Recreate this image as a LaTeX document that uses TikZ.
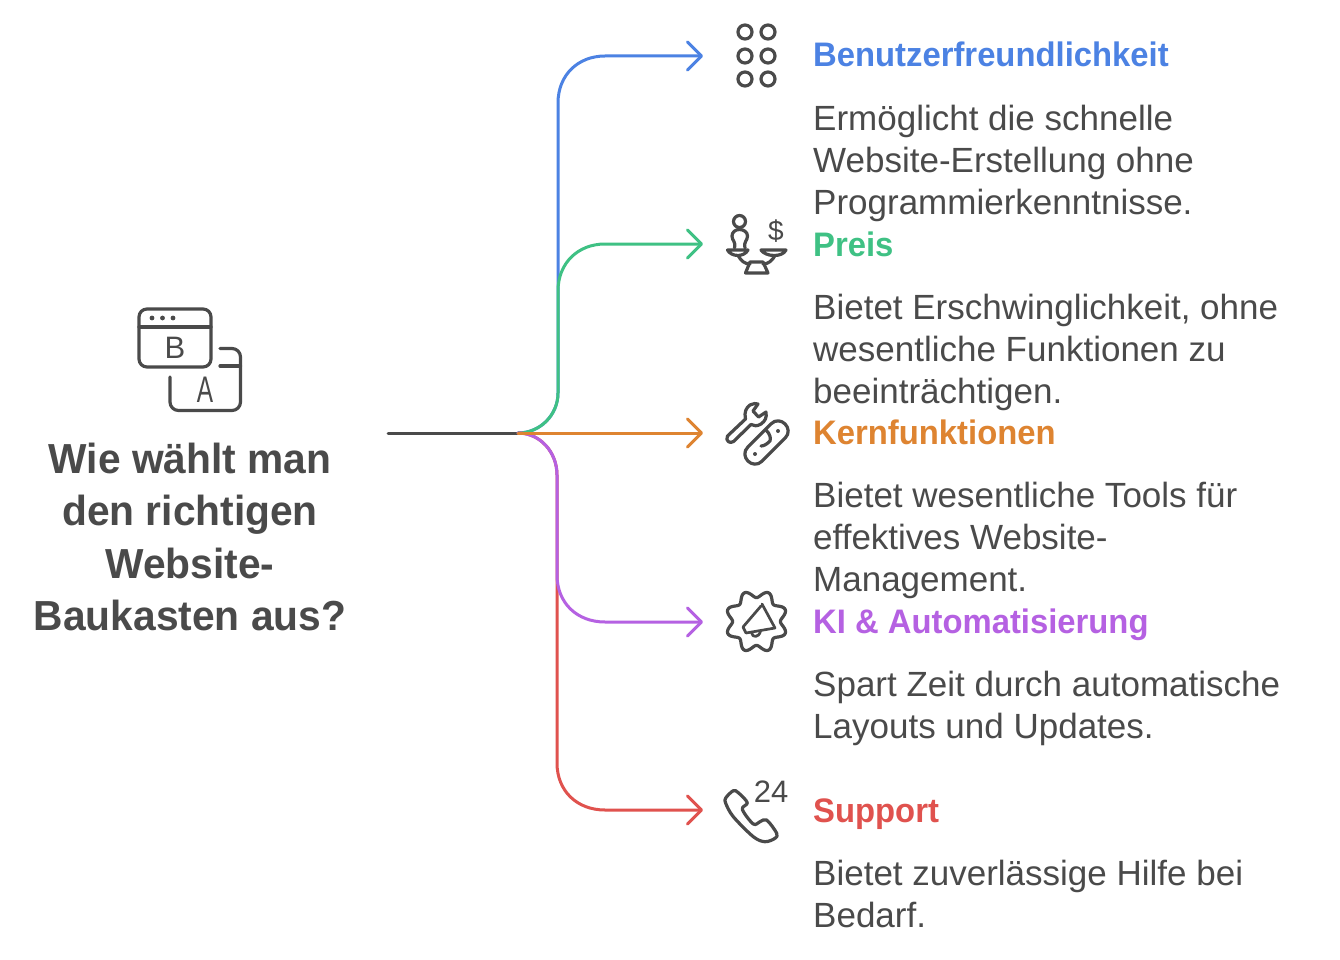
\documentclass[tikz,border=0pt]{standalone}
\usepackage{fontspec}
\setmainfont{Liberation Sans}
\usetikzlibrary{arrows.meta}
\definecolor{ink}{HTML}{4A4A4A}
\definecolor{cblue}{HTML}{4C82E3}
\definecolor{cgreen}{HTML}{3FC184}
\definecolor{corange}{HTML}{DE8431}
\definecolor{cpurple}{HTML}{B561E2}
\definecolor{cred}{HTML}{E0524E}
\tikzset{
  conn/.style={line width=3pt,line cap=round,line join=round},
  tipped/.style={conn,-{Straight Barb[length=14pt,width=28pt,line width=3pt,round]}},
  icon/.style={draw=ink,line width=3.2pt,line cap=round,line join=round},
  title/.style={inner sep=0pt,align=center,text=ink,xscale=.97,font=\fontsize{42}{52.3}\selectfont\bfseries},
  head/.style={inner sep=0pt,anchor=base west,xscale=.965,font=\fontsize{34}{42}\selectfont\bfseries},
  body/.style={inner sep=0pt,anchor=north west,align=left,text=ink,font=\fontsize{35}{42}\selectfont},
  glyph/.style={inner sep=0pt,anchor=base,text=ink}
}
\begin{document}
\begin{tikzpicture}[x=1pt,y=-1pt]
\useasboundingbox (0,0) rectangle (1340,960);
\fill[white] (0,0) rectangle (1340,960);

% title
\node[title] (question) at (190,537) {Wie wählt man\\den richtigen\\Website-\\Baukasten aus?};

% connectors
\coordinate (start) at (388,433);
\coordinate (root) at (518,433);
\coordinate (tipA) at (703,56);
\coordinate (tipB) at (703,244);
\coordinate (tipC) at (703,433);
\coordinate (tipD) at (703,622);
\coordinate (tipE) at (703,810);
\draw[conn,draw=ink] (start) -- (root);
\draw[tipped,draw=cblue] (root) .. controls (540,433) and (558,415) .. (558,393) -- (558,103) .. controls (558,75) and (578,56) .. (605,56) -- (tipA);
\draw[tipped,draw=cgreen] (root) .. controls (540,433) and (558,415) .. (558,393) -- (558,291) .. controls (558,263) and (578,244) .. (605,244) -- (tipB);
\draw[tipped,draw=cred] (root) .. controls (540,433) and (557,452) .. (557,475) -- (557,763) .. controls (557,791) and (577,810) .. (605,810) -- (tipE);
\draw[tipped,draw=cpurple] (root) .. controls (540,433) and (557,452) .. (557,475) -- (557,575) .. controls (557,603) and (577,622) .. (605,622) -- (tipD);
\draw[tipped,draw=corange] (root) -- (tipC);

% headings and bodies
\node[head,text=cblue] (h1) at (813,67) {Benutzerfreundlichkeit};
\node[body] (b1) at (813,105) {Ermöglicht die schnelle\\Website-Erstellung ohne\\Programmierkenntnisse.};
\node[head,text=cgreen] (h2) at (813,256) {Preis};
\node[body] (b2) at (813,294) {Bietet Erschwinglichkeit, ohne\\wesentliche Funktionen zu\\beeinträchtigen.};
\node[head,text=corange] (h3) at (813,444) {Kernfunktionen};
\node[body] (b3) at (813,482) {Bietet wesentliche Tools für\\effektives Website-\\Management.};
\node[head,text=cpurple] (h4) at (813,633) {KI \& Automatisierung};
\node[body] (b4) at (813,671) {Spart Zeit durch automatische\\Layouts und Updates.};
\node[head,text=cred] (h5) at (813,822) {Support};
\node[body] (b5) at (813,860) {Bietet zuverlässige Hilfe bei\\Bedarf.};

% icon: A/B browser
\draw[icon] (139,317) arc[start angle=180,end angle=270,radius=8] -- (203,309) arc[start angle=270,end angle=360,radius=8] -- (211,359) arc[start angle=0,end angle=90,radius=8] -- (147,367) arc[start angle=90,end angle=180,radius=8] -- cycle;
\draw[icon] (139,327) -- (211,327);
\fill[ink] (152,318) circle (2.4) (162.5,318) circle (2.4) (173,318) circle (2.4);
\draw[icon] (170,377) -- (170,402) arc[start angle=180,end angle=90,radius=8.5] -- (232,410.5) arc[start angle=90,end angle=0,radius=8.5] -- (240.5,357) arc[start angle=0,end angle=-90,radius=8.5] -- (220,348.5);
\draw[icon] (220,366) -- (240.5,366);
\node[glyph,font=\fontsize{31}{31}\selectfont] (letterB) at (175,358.5) {B};
\node[glyph,font=\fontsize{37}{37}\selectfont,xscale=.66] (letterA) at (205,402) {A};

% icon: dots
\foreach \px in {745,768} \foreach \py in {32,56,79} \draw[icon] (\px,\py) circle (7);

% icon: scales
\draw[icon] (739.5,221.5) circle (6);
\draw[icon] (734.5,248) .. controls (736,241) and (732,241) .. (732,236) .. controls (732,232) and (735.5,229.5) .. (739.5,229.5) .. controls (743.5,229.5) and (747.5,232) .. (747.5,236) .. controls (747.5,241) and (743.5,241) .. (745,248);
\draw[icon] (727.5,250) -- (748,250) .. controls (746,254) and (741,255.5) .. (738,255.5) .. controls (733,255.5) and (729,253) .. (727.5,250) -- cycle;
\draw[icon] (761,250) -- (786,250) .. controls (784,254) and (779,255.5) .. (774,255.5) .. controls (768,255.5) and (763,253) .. (761,250) -- cycle;
\draw[icon] (738,255.5) .. controls (741,261) and (745,264) .. (750,264);
\draw[icon] (775,255.5) .. controls (772,261) and (768,264) .. (763,264);
\draw[icon] (745.5,273) -- (750,262) -- (763,262) -- (768,273) -- cycle;
\node[glyph,font=\fontsize{28}{28}\selectfont] (dollar) at (776,240) {\$};

% icon: tools
\draw[icon] (727.5,436) -- (745.5,419) .. controls (744,412) and (746,408) .. (750,405) .. controls (753,403.5) and (756,403) .. (758,404) -- (753,411) -- (758.5,417) -- (766,412) .. controls (767,418) and (765,421) .. (761,424) .. controls (757,426.5) and (754,426) .. (751,424.5) -- (733.5,441.5) .. controls (730,444) and (725,441) .. (727.5,436) -- cycle;
\draw[icon] (747.9,446.9) -- (770.9,423.9) .. controls (780.3,414.5) and (794.5,428.7) .. (785.1,438.1) -- (762.1,461.1) .. controls (752.7,470.5) and (738.5,456.3) .. (747.9,446.9) -- cycle;
\draw[icon] (766,430) .. controls (770,434) and (771,438) .. (770,441) .. controls (767,444) and (764,446) .. (761,446);
\fill[ink] (755,454) circle (2) (778,431) circle (2);

% icon: gear with megaphone
\draw[icon] plot[domain=0:360,samples=145,smooth] ({756.5+(27.5+3.6*cos(8*(\x-22.5)))*cos(\x)},{621.5+(27.5+3.6*cos(8*(\x-22.5)))*sin(\x)}) -- cycle;
\draw[icon,line width=2.7pt] (743,627) -- (761,606) (762,604) -- (775,628) -- (746,633) -- (743,627);
\draw[icon,line width=2.7pt] (751.5,632.5) .. controls (752,638) and (759,638) .. (760.5,631);

% icon: phone
\draw[icon] plot[smooth cycle,tension=.55] coordinates {(725.7,798) (733.3,790.7) (738.3,792.7) (747.3,802.7) (742.3,809.3) (753.3,824) (760,821.7) (766.7,820) (776.7,833.3) (775,838.3) (765,841.7) (753.3,836.7) (733.3,816.7) (725.7,803.3)};
\node[glyph,font=\fontsize{31}{31}\selectfont] (hours) at (771,802) {24};
\end{tikzpicture}
\end{document}
